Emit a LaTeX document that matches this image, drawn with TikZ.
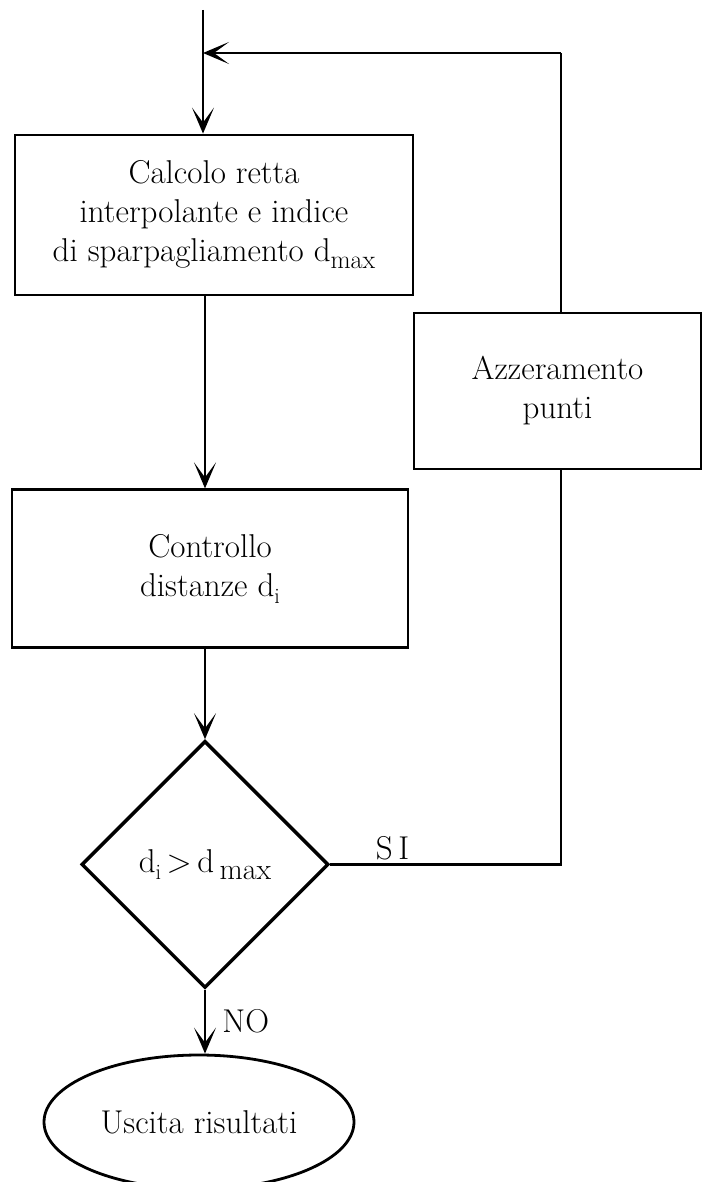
\documentclass[tikz,border=0pt]{standalone}
\usepackage{tikz}
\usetikzlibrary{
  positioning,
  shapes.geometric,
  arrows.meta
}

% lowered index, nearly full size
\newcommand{\lowidx}[2][26]{\raisebox{-7pt}{\fontsize{#1}{#1}\selectfont #2}}

\begin{document}
\begin{tikzpicture}[
  x=1pt, y=-1pt,
  font=\fontsize{33}{39}\selectfont,
  process/.style={
    draw,
    line width=2.8pt,
    align=center,
    inner sep=0pt
  },
  decision/.style={
    draw,
    diamond,
    aspect=1,
    line width=3.4pt,
    minimum width=247pt,
    minimum height=247pt,
    inner sep=0pt
  },
  terminal/.style={
    draw,
    ellipse,
    line width=2.8pt,
    minimum width=310pt,
    minimum height=134pt,
    inner sep=0pt
  },
  link/.style={line width=2.2pt},
  flow/.style={link, -{Stealth[length=26pt, width=22pt, inset=15pt]}}
]
\useasboundingbox (0,0) rectangle (701,1182);

% Entry and return points
\coordinate (start) at (203,10);
\coordinate (turn) at (561,53);

% Boxes
\node[process, minimum width=398pt, minimum height=160pt] (calc) at (214,215)
  {Calcolo retta\\interpolante e indice\\di sparpagliamento d\lowidx{max}};
\node[process, minimum width=396pt, minimum height=158pt, below=192pt of calc, xshift=-4pt] (ctrl)
  {Controllo\\distanze d\lowidx[22]{i}};
\node[decision, below=90pt of ctrl, xshift=-5pt] (check)
  {d\lowidx[22]{i}\,>\,d\,\lowidx[30]{max}};
\node[terminal, below=64pt of check, xshift=-6pt] (out) {Uscita risultati};
\node[process, minimum width=287pt, minimum height=156pt] (reset) at (557.5,391)
  {Azzeramento\\punti};

% Arrows
\draw[flow] (start) -- (start |- calc.north);
\draw[flow] (calc.south -| check.north) -- (ctrl.north -| check.north);
\draw[flow] (ctrl.south -| check.north) -- (check.north);
\draw[flow] (check.south) -- node[right, xshift=13pt] {NO} (check.south |- out.north);

% Loop back
\draw[link] (check.east) -- node[above, pos=0.27] {S\,I} (check.east -| turn) -- (reset.south -| turn);
\draw[link] (reset.north -| turn) -- (turn);
\draw[flow] (turn) -- (start |- turn);

\end{tikzpicture}
\end{document}
